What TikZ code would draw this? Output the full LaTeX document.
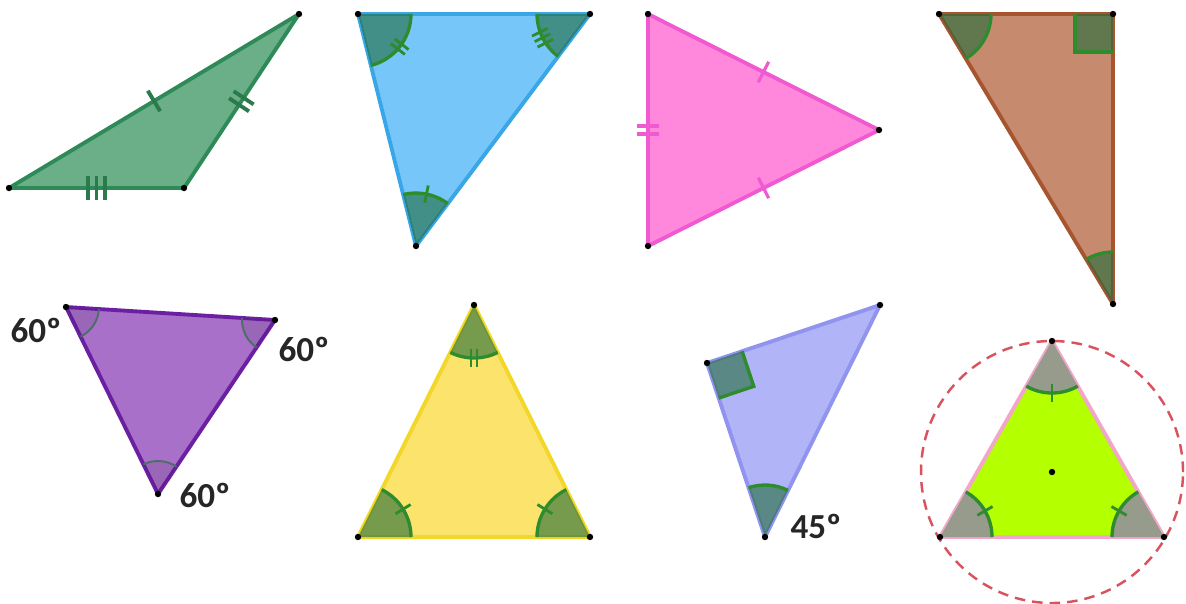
\documentclass[tikz,border=0pt]{standalone}
\usepackage{fontspec}
\setmainfont{Carlito}
\usetikzlibrary{calc, decorations.markings}
\definecolor{trGreen}{HTML}{6BAF88}
\definecolor{trGreenEdge}{HTML}{2E8B57}
\definecolor{trGreenTick}{HTML}{2A7A4C}
\definecolor{trBlue}{HTML}{76C6F9}
\definecolor{trBlueEdge}{HTML}{3AA6E6}
\definecolor{trPink}{HTML}{FF88DD}
\definecolor{trPinkEdge}{HTML}{F05AD0}
\definecolor{trBrown}{HTML}{C68B6E}
\definecolor{trBrownEdge}{HTML}{A8552F}
\definecolor{trPurple}{HTML}{A870C8}
\definecolor{trPurpleEdge}{HTML}{6B1FA3}
\definecolor{trYellow}{HTML}{FCE36B}
\definecolor{trYellowEdge}{HTML}{F2D82C}
\definecolor{trLilac}{HTML}{B1B4F7}
\definecolor{trLilacEdge}{HTML}{9094EE}
\definecolor{trLime}{HTML}{B4FF00}
\definecolor{trLimeEdge}{HTML}{F2A6C9}
\definecolor{angGreen}{HTML}{1F6B3A}
\definecolor{arcGreen}{HTML}{2E8B2E}
\definecolor{arcGrey}{HTML}{4D6E66}
\definecolor{angGrey}{HTML}{979B8C}
\definecolor{circRed}{HTML}{D9535F}
\tikzset{
  tri/.style 2 args = {fill=#1, draw=#2, line width=2.2pt, line join=round},
  vdot/.style       = {fill=black},
  angfill/.style    = {fill=angGreen, fill opacity=0.6},
  greyfill/.style   = {fill=angGrey},
  thinfill/.style   = {fill=black, fill opacity=0.08},
  arcln/.style      = {draw=arcGreen, line width=1.9pt},
  thinarc/.style    = {draw=arcGrey, line width=1.1pt},
  tick1/.style n args = {3}{decoration={markings,
                        mark=at position 0.5 with {\draw[#1, line width=#3] (0,-#2) -- (0,#2);}},
                       postaction={decorate}},
  tick2/.style n args = {3}{decoration={markings,
                        mark=at position 0.5 with {\draw[#1, line width=#3]
                          ({-0.35*#2},-#2) -- ({-0.35*#2},#2) ({0.35*#2},-#2) -- ({0.35*#2},#2);}},
                       postaction={decorate}},
  tick3/.style n args = {3}{decoration={markings,
                        mark=at position 0.5 with {\draw[#1, line width=#3]
                          ({-0.7*#2},-#2) -- ({-0.7*#2},#2) (0,-#2) -- (0,#2)
                          ({0.7*#2},-#2) -- ({0.7*#2},#2);}},
                       postaction={decorate}},
  deg/.style        = {font=\fontsize{20}{22}\selectfont\bfseries, text=black!85},
  circum/.style     = {draw=circRed, line width=1.4pt, dash pattern=on 6pt off 4pt},
}
% sector at #1, counterclockwise from #2 to #3
\newcommand{\angsec}[6]{%
  \path[#5] let \p1 = ($(#2)-(#1)$), \p2 = ($(#3)-(#1)$),
        \n1 = {atan2(\y1,\x1)}, \n2 = {atan2(\y2,\x2)}, \n3 = {\n2+360*(\n2<\n1)} in
    (#1) -- ++(\n1:#4) arc[start angle=\n1, end angle=\n3, radius=#4] -- cycle;
  \path[#6] let \p1 = ($(#2)-(#1)$), \p2 = ($(#3)-(#1)$),
        \n1 = {atan2(\y1,\x1)}, \n2 = {atan2(\y2,\x2)}, \n3 = {\n2+360*(\n2<\n1)} in
    ($(#1)+(\n1:#4)$) arc[start angle=\n1, end angle=\n3, radius=#4];
}
\newcommand{\rtsq}[4]{%
  \coordinate (sq1) at ($(#1)!#4!(#2)$);
  \coordinate (sq2) at ($(#1)!#4!(#3)$);
  \coordinate (sq3) at ($(sq1)+(sq2)-(#1)$);
  \fill[angfill] (#1) -- (sq1) -- (sq3) -- (sq2) -- cycle;
  \draw[arcln] (sq1) -- (sq3) -- (sq2);
}
\begin{document}
\begin{tikzpicture}[x=0.02cm, y=0.02cm]
  \useasboundingbox (0,0) rectangle (1186,-603);

  \coordinate (g1) at (9,-188);   \coordinate (g2) at (184,-188);  \coordinate (g3) at (299,-14);
  \coordinate (b1) at (358,-14);  \coordinate (b2) at (590,-14);   \coordinate (b3) at (416,-246);
  \coordinate (p1) at (648,-14);  \coordinate (p2) at (879,-130);  \coordinate (p3) at (648,-246);
  \coordinate (r1) at (939,-14);  \coordinate (r2) at (1113,-14);  \coordinate (r3) at (1113,-304);
  \coordinate (v1) at (66,-307);  \coordinate (v2) at (275,-320);  \coordinate (v3) at (158,-494);
  \coordinate (y1) at (474,-305); \coordinate (y2) at (358,-537);  \coordinate (y3) at (590,-537);
  \coordinate (l1) at (707,-363); \coordinate (l2) at (880,-305);  \coordinate (l3) at (765,-537);
  \coordinate (e1) at (1052,-341);\coordinate (e2) at (940,-537);  \coordinate (e3) at (1164,-537);
  \coordinate (e0) at (1052,-472);

  % scalene, equal sides marked
  \filldraw[tri={trGreen}{trGreenEdge}] (g1) -- (g2) -- (g3) -- cycle;
  \path[tick1={trGreenTick}{6.8pt}{2.2pt}] (g1) -- (g3);
  \path[tick2={trGreenTick}{6.8pt}{2.2pt}] (g2) -- (g3);
  \path[tick3={trGreenTick}{6.8pt}{2.2pt}] (g1) -- (g2);

  \filldraw[tri={trBlue}{trBlueEdge}] (b1) -- (b2) -- (b3) -- cycle;
  \angsec{b1}{b3}{b2}{53}{angfill}{arcln, tick2={arcGreen}{5pt}{1.6pt}}
  \angsec{b2}{b1}{b3}{53}{angfill}{arcln, tick3={arcGreen}{5pt}{1.6pt}}
  \angsec{b3}{b2}{b1}{53}{angfill}{arcln, tick1={arcGreen}{5pt}{1.6pt}}

  \filldraw[tri={trPink}{trPinkEdge}] (p1) -- (p2) -- (p3) -- cycle;
  \path[tick1={trPinkEdge}{6.5pt}{1.8pt}] (p1) -- (p2);
  \path[tick1={trPinkEdge}{6.5pt}{1.8pt}] (p2) -- (p3);
  \path[tick2={trPinkEdge}{6.5pt}{1.8pt}] (p3) -- (p1);

  \filldraw[tri={trBrown}{trBrownEdge}] (r1) -- (r2) -- (r3) -- cycle;
  \angsec{r1}{r3}{r2}{52}{angfill}{arcln}
  \angsec{r3}{r2}{r1}{52}{angfill}{arcln}
  \rtsq{r2}{r1}{r3}{0.76cm}

  % equal angles
  \filldraw[tri={trPurple}{trPurpleEdge}] (v1) -- (v2) -- (v3) -- cycle;
  \angsec{v1}{v3}{v2}{33}{thinfill}{thinarc}
  \angsec{v2}{v1}{v3}{33}{thinfill}{thinarc}
  \angsec{v3}{v2}{v1}{33}{thinfill}{thinarc}
  \node[deg] (d1) at (36,-330) {60º};
  \node[deg] (d2) at (304,-349) {60º};
  \node[deg] (d3) at (205,-495) {60º};

  \filldraw[tri={trYellow}{trYellowEdge}] (y1) -- (y2) -- (y3) -- cycle;
  \angsec{y1}{y2}{y3}{53}{angfill}{arcln, tick2={arcGreen}{5pt}{1.6pt}}
  \angsec{y2}{y3}{y1}{53}{angfill}{arcln, tick1={arcGreen}{5pt}{1.6pt}}
  \angsec{y3}{y1}{y2}{53}{angfill}{arcln, tick1={arcGreen}{5pt}{1.6pt}}

  \filldraw[tri={trLilac}{trLilacEdge}] (l1) -- (l2) -- (l3) -- cycle;
  \angsec{l3}{l2}{l1}{52}{angfill}{arcln}
  \rtsq{l1}{l2}{l3}{0.74cm}
  \node[deg] (d4) at (816,-526) {45º};

  \filldraw[tri={trLime}{trLimeEdge}] (e1) -- (e2) -- (e3) -- cycle;
  \angsec{e1}{e2}{e3}{52}{greyfill}{arcln, tick1={arcGreen}{5pt}{1.6pt}}
  \angsec{e2}{e3}{e1}{52}{greyfill}{arcln, tick1={arcGreen}{5pt}{1.6pt}}
  \angsec{e3}{e1}{e2}{52}{greyfill}{arcln, tick1={arcGreen}{5pt}{1.6pt}}
  \draw[circum] (e0) circle[radius=131];

  \foreach \v in {g1,g2,g3,b1,b2,b3,p1,p2,p3,r1,r2,r3,v1,v2,v3,y1,y2,y3,l1,l2,l3,e1,e2,e3,e0}
    \fill[vdot] (\v) circle[radius=3.2];
\end{tikzpicture}
\end{document}
